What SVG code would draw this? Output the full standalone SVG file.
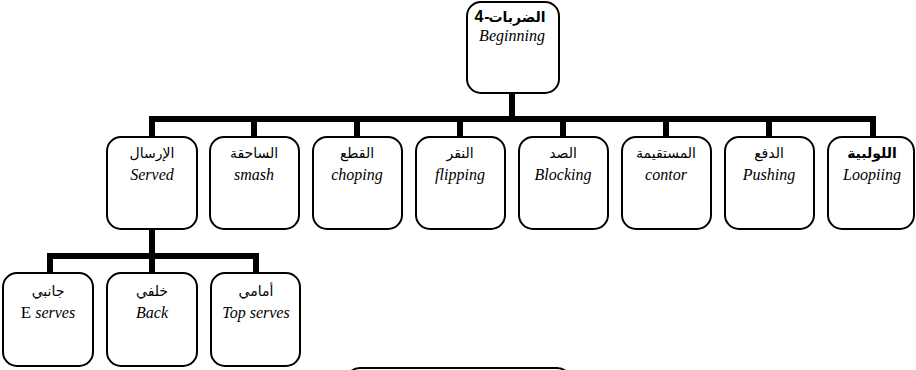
<svg xmlns="http://www.w3.org/2000/svg" width="916" height="370" viewBox="0 0 916 370">
<style>
.box{fill:#fff;stroke:#000;stroke-width:2}
.ar{font-family:"DejaVu Sans",sans-serif;font-size:14px;text-anchor:middle;fill:#000}
.en{font-family:"Liberation Serif",serif;font-size:16px;font-style:italic;text-anchor:middle;fill:#000}
.num{font-family:"Liberation Sans",sans-serif;font-size:16px;font-weight:bold;text-anchor:middle;fill:#000}
.b{font-weight:bold}
.ln{fill:none;stroke:#000;stroke-width:6}
</style>
<rect width="916" height="370" fill="#fff"/>
<g id="connectors">
<path class="ln" d="M512 93 V119 M152 137 V119 H873 V137 M254 119 V137 M357 119 V137 M460 119 V137 M563 119 V137 M666 119 V137 M769 119 V137"/>
<path class="ln" d="M152 229 V256 M50 273 V256 H256 V273 M152 256 V273"/>
</g>
<g id="n-root"><rect class="box" x="467" y="2" width="92" height="91" rx="14"/>
<text class="num" x="479" y="22">4</text>
<text class="num" x="487" y="22">-</text>
<text class="ar b" x="517" y="22" font-size="15">الضربات</text>
<text class="en" x="512" y="41">Beginning</text></g>
<g id="n-served"><rect class="box" x="107" y="137" width="90" height="92" rx="14"/>
<text class="ar" x="152" y="158">الإرسال</text><text class="en" x="152" y="180">Served</text></g>
<g id="n-smash"><rect class="box" x="210" y="137" width="89" height="92" rx="14"/>
<text class="ar" x="254" y="158">الساحقة</text><text class="en" x="254" y="180">smash</text></g>
<g id="n-choping"><rect class="box" x="313" y="137" width="89" height="92" rx="14"/>
<text class="ar" x="357" y="158">القطع</text><text class="en" x="357" y="180">choping</text></g>
<g id="n-flipping"><rect class="box" x="416" y="137" width="89" height="92" rx="14"/>
<text class="ar" x="460" y="158">النقر</text><text class="en" x="460" y="180">flipping</text></g>
<g id="n-blocking"><rect class="box" x="519" y="137" width="89" height="92" rx="14"/>
<text class="ar" x="563" y="158">الصد</text><text class="en" x="563" y="180">Blocking</text></g>
<g id="n-contor"><rect class="box" x="622" y="137" width="89" height="92" rx="14"/>
<text class="ar" x="666" y="158">المستقيمة</text><text class="en" x="666" y="180">contor</text></g>
<g id="n-pushing"><rect class="box" x="725" y="137" width="89" height="92" rx="14"/>
<text class="ar" x="769" y="158">الدفع</text><text class="en" x="769" y="180">Pushing</text></g>
<g id="n-looping"><rect class="box" x="828" y="137" width="86" height="92" rx="14"/>
<text class="ar b" x="872" y="158">اللولبية</text><text class="en" x="872" y="180">Loopiing</text></g>
<g id="n-side"><rect class="box" x="3" y="273" width="90" height="93" rx="14"/>
<text class="ar" x="48" y="296">جانبي</text><text class="en" x="48" y="318"><tspan font-style="normal" font-size="17">E</tspan> serves</text></g>
<g id="n-back"><rect class="box" x="107" y="273" width="90" height="93" rx="14"/>
<text class="ar" x="152" y="296">خلفي</text><text class="en" x="152" y="318">Back</text></g>
<g id="n-front"><rect class="box" x="211" y="273" width="89" height="93" rx="14"/>
<text class="ar" x="256" y="296">أمامي</text><text class="en" x="256" y="318">Top serves</text></g>
<g id="n-bottom"><rect class="box" x="346" y="368" width="225" height="40" rx="14"/></g>
</svg>
